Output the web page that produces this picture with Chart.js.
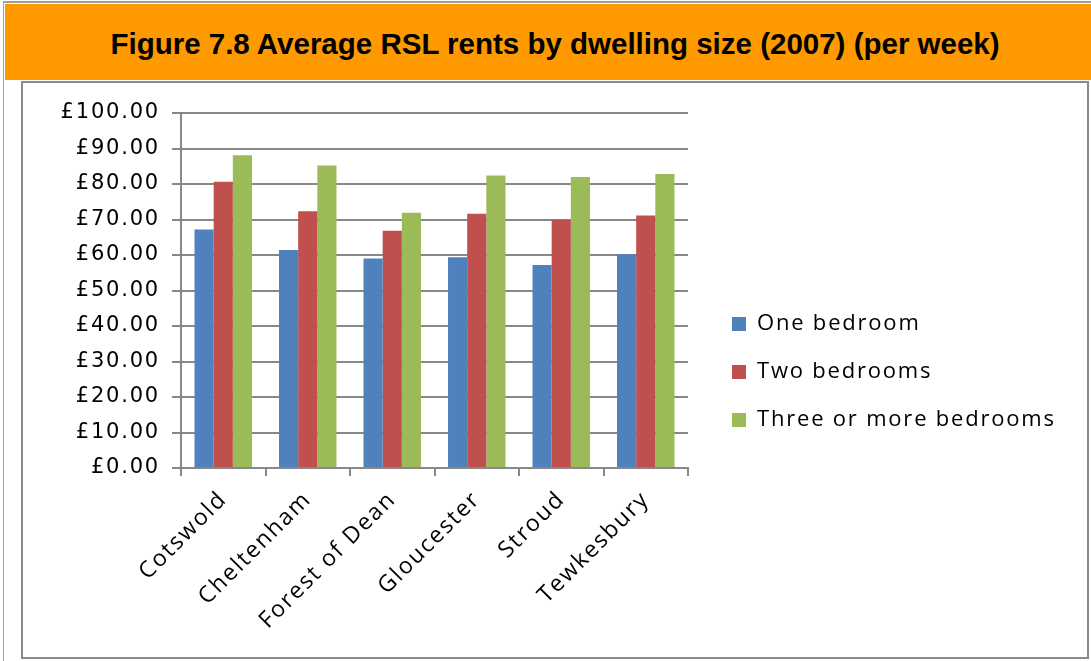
<!DOCTYPE html>
<html>
<head>
<meta charset="utf-8">
<title>Average RSL rents by dwelling size</title>
<script src="https://cdn.jsdelivr.net/npm/chart.js@4.4.1/dist/chart.umd.min.js"></script>
<style>
    html, body { margin: 0; padding: 0; background: #fff; }
    #page { position: relative; width: 1091px; height: 661px; overflow: hidden; }
    #frame { position: absolute; left: 3px; top: 1px; width: 1100px; height: 700px;
             border-left: 1px solid #a0a0a0; border-top: 2px solid #a0a0a0; }
    #header { position: absolute; left: 5px; top: 4px; width: 1072px; height: 76px; padding-left: 14px;
              background: #ff9900; color: #000; text-align: center;
              font: bold 29.5px "Liberation Sans", Arial, sans-serif; line-height: 80px; }
    #box { position: absolute; left: 21px; top: 81px; width: 1064px; height: 574px;
           border: 2px solid #8a8a8a; background: #fff; }
    #box canvas { display: block; }
</style>
</head>
<body>
<div id="page">
    <div id="frame"></div>
    <div id="header">Figure 7.8 Average RSL rents by dwelling size (2007) (per week)</div>
    <div id="box"><canvas id="chart" width="1064" height="574"></canvas></div>
</div>
<script>
// Data (per week, £)
const categories = ['Cotswold', 'Cheltenham', 'Forest of Dean', 'Gloucester', 'Stroud', 'Tewkesbury'];
const oneBedroom = [67.2, 61.4, 59.0, 59.4, 57.2, 60.2];
const twoBedrooms = [80.6, 72.3, 66.8, 71.6, 69.9, 71.1];
const threeOrMore = [88.1, 85.2, 71.9, 82.4, 82.0, 82.8];
const seriesNames = ['One bedroom', 'Two bedrooms', 'Three or more bedrooms'];

const LEGEND_WIDTH = 399;
const LEGEND_SHIFT_X = 18;
const LEGEND_SHIFT_Y = -13;
const labelFont = '"Open Sans", "DejaVu Sans", sans-serif';

// keep the legend a fixed width and nudge it, like the Excel original
const legendPlacement = {
    id: 'legendPlacement',
    beforeLayout(chart) {
        const legend = chart.legend;
        if (legend && !legend.__fixedFit) {
            const fit = legend.fit;
            legend.fit = function () {
                fit.call(this);
                this.width = LEGEND_WIDTH;
            };
            legend.__fixedFit = true;
        }
    },
    afterLayout(chart) {
        const legend = chart.legend;
        legend.left += LEGEND_SHIFT_X;
        legend.right += LEGEND_SHIFT_X;
        legend.top += LEGEND_SHIFT_Y;
        legend.bottom += LEGEND_SHIFT_Y;
    },
    beforeDraw(chart) {
        // the original text is drawn quite wide
        chart.ctx.letterSpacing = '1.8px';
    }
};

const gridColor = '#888888';

new Chart(document.getElementById('chart'), {
    type: 'bar',
    data: {
        labels: categories,
        datasets: [{
            label: seriesNames[0],
            data: oneBedroom,
            backgroundColor: '#4f81bd'
        }, {
            label: seriesNames[1],
            data: twoBedrooms,
            backgroundColor: '#c0504d'
        }, {
            label: seriesNames[2],
            data: threeOrMore,
            backgroundColor: '#9bbb59'
        }]
    },
    options: {
        responsive: false,
        animation: false,
        devicePixelRatio: 1,
        categoryPercentage: 0.68,
        barPercentage: 1.0,
        layout: { padding: { top: 30, left: 0, right: 0, bottom: 0 } },
        plugins: {
            title: { display: false },
            tooltip: { enabled: false },
            legend: {
                position: 'right',
                align: 'center',
                labels: {
                    boxWidth: 14,
                    boxHeight: 14,
                    padding: 26,
                    color: '#000',
                    font: { family: labelFont, size: 22 }
                }
            }
        },
        scales: {
            x: {
                grid: {
                    display: true,
                    drawOnChartArea: false,
                    drawTicks: true,
                    tickLength: 8,
                    offset: true,
                    color: gridColor,
                    lineWidth: 2
                },
                border: { color: gridColor, width: 2 },
                ticks: {
                    color: '#000',
                    minRotation: 45,
                    maxRotation: 45,
                    padding: 10,
                    font: { family: labelFont, size: 23 }
                },
                afterFit(scale) { scale.height = 189; }
            },
            y: {
                min: 0,
                max: 100,
                grid: {
                    color: gridColor,
                    lineWidth: 2,
                    tickLength: 9,
                    drawTicks: true
                },
                border: { color: gridColor, width: 2 },
                ticks: {
                    stepSize: 10,
                    color: '#000',
                    padding: 12,
                    font: { family: '"DejaVu Sans", sans-serif', size: 21 },
                    callback: (v) => '£' + Number(v).toFixed(2)
                },
                afterFit(scale) { scale.width = 158; }
            }
        }
    },
    plugins: [legendPlacement]
});
</script>
</body>
</html>
